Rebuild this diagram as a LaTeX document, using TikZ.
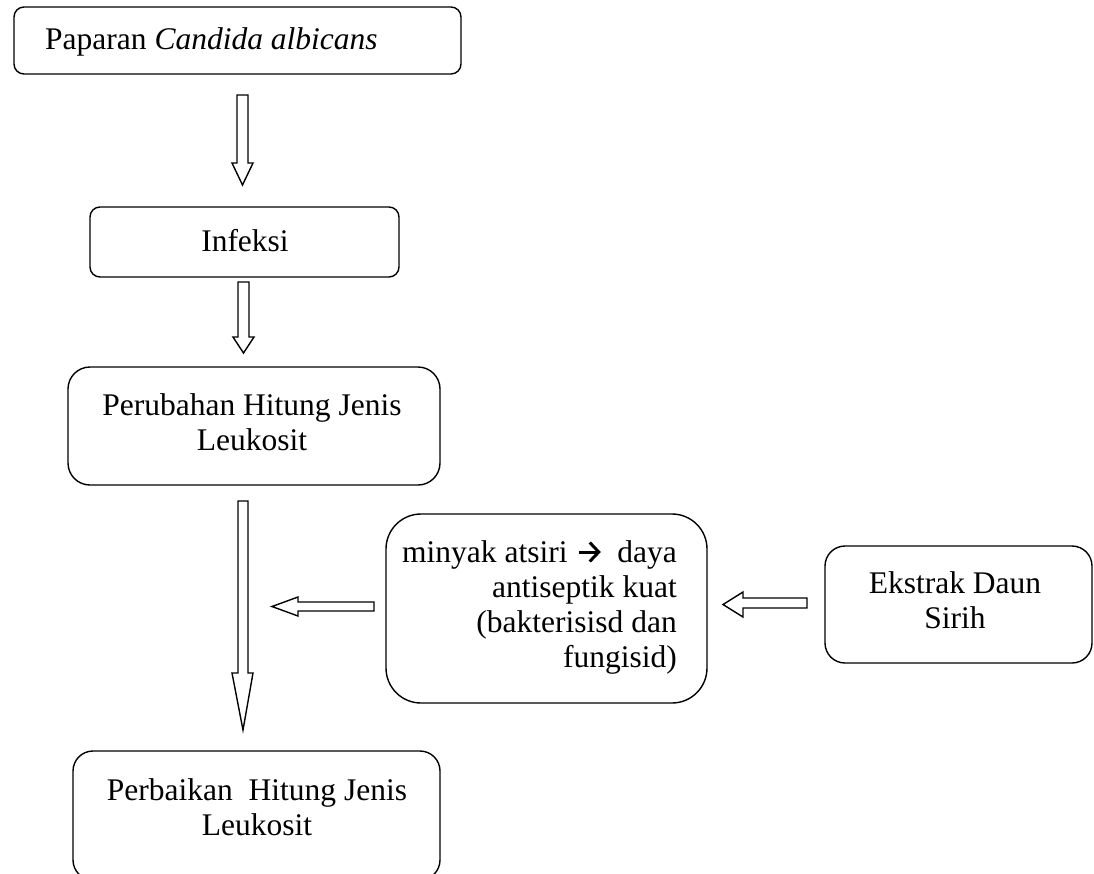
\documentclass[tikz,border=0pt]{standalone}
\usepackage{fontspec}
\usetikzlibrary{calc}
\setmainfont{Liberation Serif}
\begin{document}
\begin{tikzpicture}[x=1pt,y=-1pt,
  box/.style={draw, line width=1.4pt, rounded corners=#1, inner sep=0pt},
  txt/.style={font=\fontsize{31.5}{35}\selectfont, inner sep=0pt},
  barrow/.style={draw, line width=1.4pt, fill=white, line join=miter},
  glypharrow/.style={draw, line width=3pt, line cap=butt, line join=miter}]
\useasboundingbox (0,0) rectangle (1094,873);

% boxes
\node[box=10pt, minimum width=447pt, minimum height=67pt] (b1) at (237.5,40.5) {};
\node[box=10pt, minimum width=309pt, minimum height=70pt] (b2) at (244.5,242) {};
\node[box=22pt, minimum width=372pt, minimum height=118pt] (b3) at (254,426) {};
\node[box=35pt, minimum width=321pt, minimum height=189pt] (b4) at (546.5,608.5) {};
\node[box=20pt, minimum width=267pt, minimum height=117pt] (b5) at (958.5,604.5) {};
\node[box=20pt, minimum width=367pt, minimum height=129pt] (b6) at (256.5,815.5) {};

% texts
\node[txt, anchor=west] (t1) at (45,42) {Paparan \textit{Candida albicans}};
\node[txt] (t2) at (245,241) {Infeksi};
\node[txt, align=center] (t3) at (252,422) {Perubahan Hitung Jenis\\Leukosit};
\node[txt, anchor=base west] (t4a) at (402,562) {minyak atsiri};
\node[txt, anchor=base east] (t4b) at (677,562) {daya};
\node[txt, anchor=base east] (t4c) at (677,597) {antiseptik kuat};
\node[txt, anchor=base east] (t4d) at (677,632) {(bakterisisd dan};
\node[txt, anchor=base east] (t4e) at (677,667) {fungisid)};
\node[txt, align=center] (t5) at (955,600.5) {Ekstrak Daun\\Sirih};
\node[txt, align=center] (t6) at (257,807.5) {Perbaikan\ \ Hitung Jenis\\Leukosit};

% arrow glyph between "minyak atsiri" and "daya"
\coordinate (ga) at ($(t4a.base east)+(11,-10)$);
\draw[glypharrow] (ga) -- ++(18,0);
\draw[glypharrow] ($(ga)+(11,-9.5)$) -- ($(ga)+(20,0)$) -- ($(ga)+(11,9.5)$);

% block arrows
\draw[barrow] (237,95) -- (248,95) -- (248,163) -- (253,163) -- (242.5,185) -- (232,163) -- (237,163) -- cycle;
\draw[barrow] (238,282) -- (249,282) -- (249,337) -- (254,337) -- (243.5,353) -- (233,337) -- (238,337) -- cycle;
\draw[barrow] (238,501) -- (248,501) -- (248,673) -- (253,673) -- (243,730) -- (232,673) -- (238,673) -- cycle;
\draw[barrow] (374,602) -- (374,611) -- (298,611) -- (298,616) -- (272,606.5) -- (298,597) -- (298,602) -- cycle;
\draw[barrow] (807,598) -- (807,608) -- (743,608) -- (743,617) -- (723,604.5) -- (743,592) -- (743,598) -- cycle;
\end{tikzpicture}
\end{document}
